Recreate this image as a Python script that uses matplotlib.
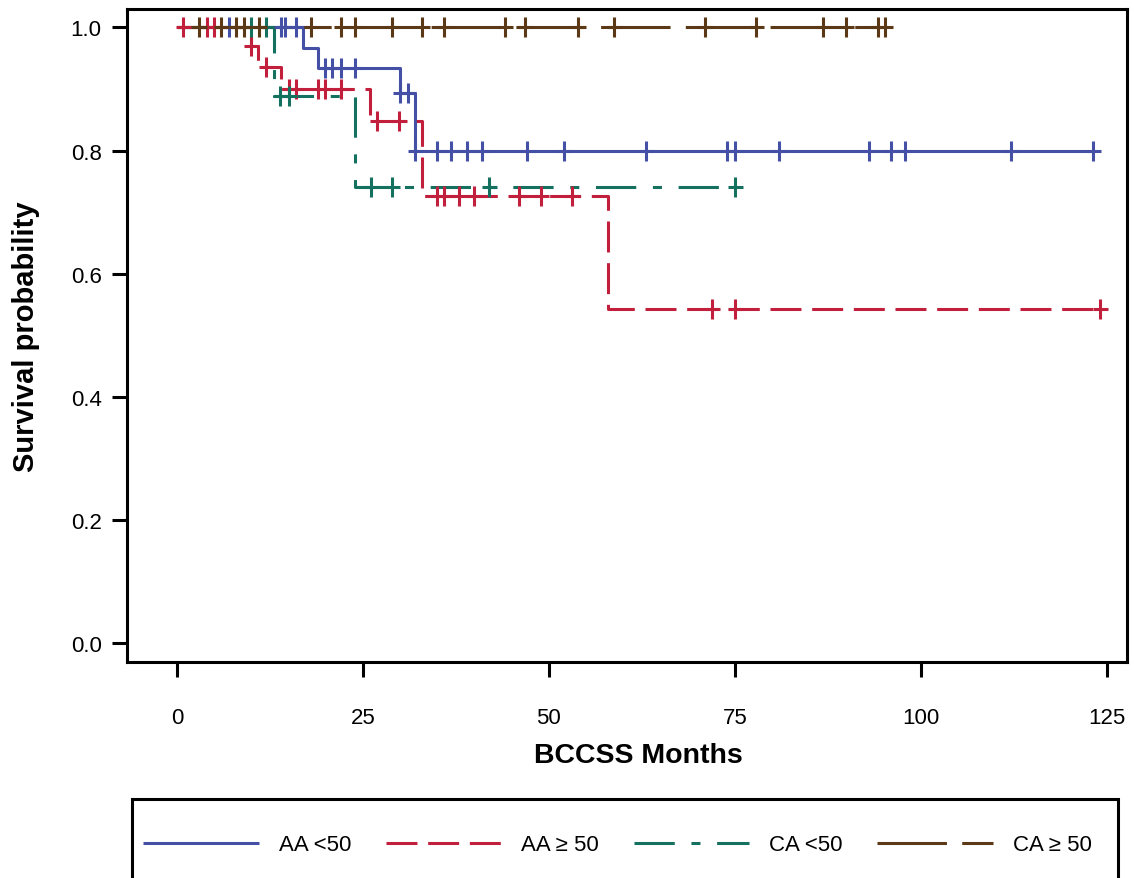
import numpy as np
import matplotlib
matplotlib.use('Agg')
import matplotlib.pyplot as plt
from matplotlib.path import Path
from matplotlib.lines import Line2D
from matplotlib.patches import Rectangle

plt.rcParams['font.family'] = ['Liberation Sans', 'DejaVu Sans']
plt.rcParams['lines.scale_dashes'] = False

# ---------------- data ----------------
labels = ['AA <50', 'AA \u2265 50', 'CA <50', 'CA \u2265 50']

aa_lt50_event_t = [17.0, 19.0, 30.0, 32.0]
aa_lt50_surv = [0.967, 0.934, 0.893, 0.799]
aa_lt50_censor = [7.0, 14.0, 14.5, 16.0, 19.9, 20.9, 22.0, 23.9, 30.0, 31.0,
                  32.0, 34.9, 36.9, 39.0, 41.0, 47.0, 52.1, 63.0, 74.0, 75.0,
                  81.0, 93.1, 96.0, 97.9, 112.1, 123.2]

aa_ge50_event_t = [10.0, 10.9, 14.0, 26.0, 33.0, 58.0]
aa_ge50_surv = [0.970, 0.935, 0.900, 0.848, 0.727, 0.543]
aa_ge50_censor = [0.8, 4.0, 5.0, 10.0, 12.0, 15.0, 16.0, 19.0, 19.9, 22.0,
                  26.9, 29.9, 34.9, 35.9, 37.9, 39.9, 46.0, 48.9, 53.1,
                  72.0, 75.0, 124.1]

ca_lt50_event_t = [13.0, 23.9]
ca_lt50_surv = [0.889, 0.741]
ca_lt50_censor = [10.0, 12.0, 13.8, 15.0, 26.1, 28.9, 42.0, 75.0]

ca_ge50_event_t = []
ca_ge50_surv = []
ca_ge50_censor = [3.0, 5.9, 8.0, 9.0, 11.0, 18.0, 22.0, 23.9, 28.9, 33.0, 35.9,
                  44.1, 46.8, 53.9, 58.7, 71.0, 77.9, 86.9, 90.0, 94.3, 95.2]

x_ticks = [0, 25, 50, 75, 100, 125]
y_ticks = [0.0, 0.2, 0.4, 0.6, 0.8, 1.0]

# ---------------- styles ----------------
colors = ['#4450A6', '#C21F3C', '#14705F', '#5B3916']
dashes = [None, (22.3, 7.7), (29.0, 12.0, 6.5, 12.0), (50.0, 11.0)]
LW = 2.2

series = [
    (aa_lt50_event_t, aa_lt50_surv, aa_lt50_censor),
    (aa_ge50_event_t, aa_ge50_surv, aa_ge50_censor),
    (ca_lt50_event_t, ca_lt50_surv, ca_lt50_censor),
    (ca_ge50_event_t, ca_ge50_surv, ca_ge50_censor),
]

plus = Path([(-0.75, 0), (0.75, 0), (0, -1), (0, 1)],
            [Path.MOVETO, Path.LINETO, Path.MOVETO, Path.LINETO])

W, H = 1134, 879
fig = plt.figure(figsize=(W / 100, H / 100), dpi=100)
ax = fig.add_axes([0.1117, 0.2454, 0.8819, 0.7432])

handles = []
for (ev, sv, cen), col, dsh, lab in zip(series, colors, dashes, labels):
    end = max(cen + ev)
    xs = [0.0] + list(ev) + [end]
    ys = [1.0] + list(sv) + [([1.0] + list(sv))[-1]]
    kw = dict(color=col, lw=LW, solid_capstyle='butt', dash_capstyle='butt')
    if dsh is not None:
        kw['dashes'] = dsh
    ax.step(xs, ys, where='post', **kw)
    handles.append(Line2D([], [], **kw))

for (ev, sv, cen), col in zip(series, colors):
    sv_full = np.array([1.0] + list(sv))
    idx = np.searchsorted(np.array(ev, dtype=float), np.array(cen), side='right')
    ax.plot(cen, sv_full[idx], linestyle='none', marker=plus, markersize=14.4,
            markeredgewidth=LW, color=col)

ax.set_xlim(-6.76, 127.7)
ax.set_ylim(-0.0314, 1.030)
ax.set_xticks(x_ticks)
ax.set_xticklabels([str(t) for t in x_ticks])
ax.set_yticks(y_ticks)
ax.set_yticklabels([f'{t:.1f}' for t in y_ticks])

for sp in ax.spines.values():
    sp.set_linewidth(LW)
ax.tick_params(axis='both', length=11, width=LW, labelsize=16, colors='black')
ax.tick_params(axis='x', pad=21)
ax.tick_params(axis='y', pad=7)

ax.set_xlabel('BCCSS Months', fontsize=20.5, fontweight='bold', labelpad=10.5)
ax.set_ylabel('Survival probability', fontsize=21, fontweight='bold', labelpad=22)
ax.xaxis.label.set_x(0.512)

# legend entries (frame drawn separately)
leg = fig.legend(handles, labels, loc='center left',
                 bbox_to_anchor=(132 / W, 1 - 846 / H, 971 / W, 0),
                 mode='expand', ncol=4, fontsize=16, frameon=False,
                 borderpad=0.5, handlelength=5.2,
                 handletextpad=0.9, borderaxespad=0)
fig.add_artist(Rectangle((132 / W, 1 - 905 / H), 986 / W, 105 / H,
                         transform=fig.transFigure, fill=False,
                         edgecolor='black', linewidth=LW, clip_on=False))

fig.savefig('out.png', dpi=100)
